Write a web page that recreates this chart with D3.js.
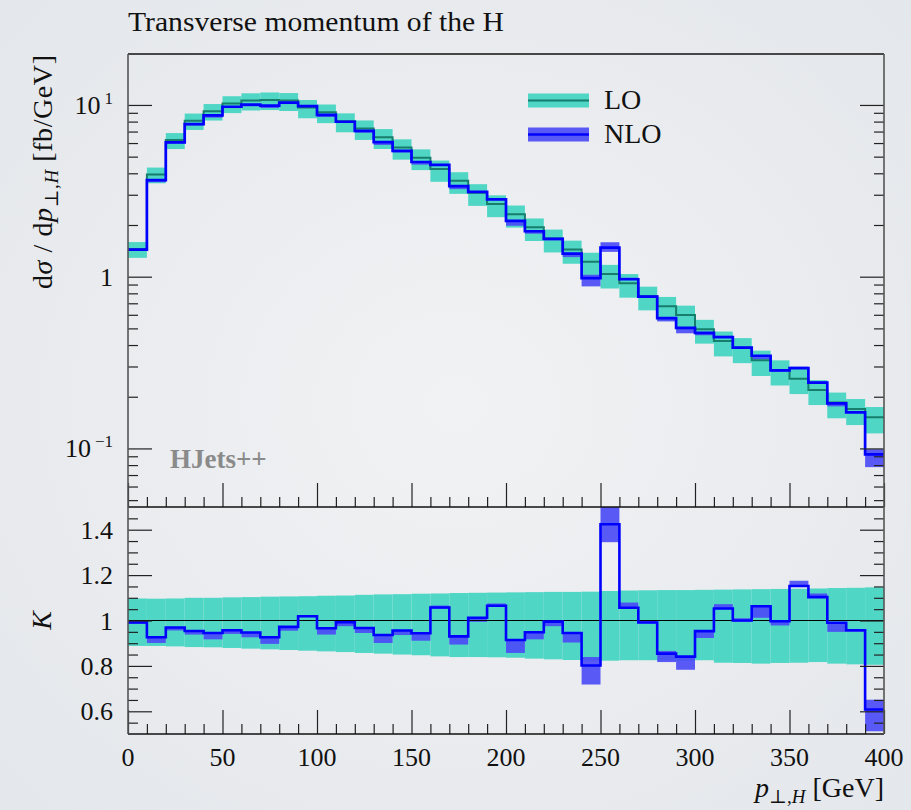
<!DOCTYPE html>
<html><head><meta charset="utf-8">
<script src="https://cdn.jsdelivr.net/npm/d3@7"></script>
<style>
html,body{margin:0;padding:0;background:#eaecf0;}
svg{display:block;}
text{font-family:"Liberation Serif","DejaVu Serif",serif;fill:#111;}
</style></head><body>
<svg id="c" width="911" height="810"></svg>
<script>
// ---- data ----
const binEdges = [0,10,20,30,40,50,60,70,80,90,100,110,120,130,140,150,160,170,180,190,200,
  210,220,230,240,250,260,270,280,290,300,310,320,330,340,350,360,370,380,390,400];
// LO central value per bin [fb/GeV]
const loCentral = [1.45,3.94,6.25,8.1,9.2,10.2,10.6,10.7,10.6,9.65,
  9.07,8.05,7.3,6.49,5.65,4.93,4.24,3.62,3.08,2.65,
  2.31,1.94,1.67,1.44,1.223,1.037,0.915,0.772,0.672,0.598,
  0.494,0.422,0.386,0.326,0.286,0.2547,0.219,0.185,0.1695,0.152];
// LO scale band relative to LO central
const loUpRatio = [1.097,1.096,1.097,1.100,1.100,1.102,1.103,1.105,1.106,1.107,
  1.109,1.110,1.113,1.115,1.116,1.118,1.119,1.121,1.122,1.123,
  1.124,1.125,1.126,1.126,1.127,1.130,1.132,1.133,1.134,1.134,
  1.135,1.136,1.137,1.138,1.139,1.140,1.141,1.143,1.144,1.146];
const loDownRatio = [0.888,0.888,0.886,0.883,0.882,0.879,0.876,0.873,0.870,0.867,
  0.864,0.861,0.857,0.854,0.850,0.847,0.842,0.839,0.839,0.838,
  0.836,0.832,0.829,0.826,0.822,0.823,0.825,0.825,0.825,0.822,
  0.825,0.814,0.813,0.810,0.813,0.814,0.817,0.810,0.807,0.805];
// K factor NLO/LO and NLO band relative to LO central
const kCentral = [0.991,0.926,0.969,0.954,0.945,0.957,0.947,0.926,0.972,1.019,
  0.966,0.992,0.967,0.936,0.956,0.944,1.057,0.930,1.012,1.065,
  0.914,0.948,0.995,0.945,0.802,1.424,1.056,0.991,0.854,0.841,
  0.953,1.053,1.000,1.063,0.997,1.152,1.103,0.990,0.957,0.608];
const kUp = [0.996,0.928,0.971,0.956,0.947,0.959,0.949,0.928,0.974,1.023,
  0.968,0.995,0.969,0.938,0.958,0.946,1.066,0.932,1.014,1.075,
  0.916,0.950,0.998,0.947,0.839,1.530,1.079,0.998,0.866,0.843,
  0.955,1.072,1.010,1.065,0.999,1.175,1.119,0.992,0.962,0.651];
const kDown = [0.986,0.901,0.956,0.938,0.917,0.941,0.926,0.897,0.955,1.015,
  0.938,0.975,0.945,0.901,0.936,0.911,1.052,0.894,0.994,1.060,
  0.857,0.917,0.975,0.903,0.718,1.345,1.052,0.988,0.817,0.783,
  0.923,1.050,0.995,1.012,0.978,1.148,1.100,0.950,0.950,0.512];

const xMajorTicks = [0,50,100,150,200,250,300,350,400];
const xMinorTicks = [10,20,30,40,60,70,80,90,110,120,130,140,160,170,180,190,210,220,230,240,
  260,270,280,290,310,320,330,340,360,370,380,390];
const mainMajorTicks = [0.1,1,10];
const mainMinorTicks = [0.05,0.06,0.07,0.08,0.09,0.2,0.3,0.4,0.5,0.6,0.7,0.8,0.9,2,3,4,5,6,7,8,9];
const ratioMajorTicks = [0.6,0.8,1,1.2,1.4];
const ratioMinorTicks = [0.55,0.65,0.7,0.75,0.85,0.9,0.95,1.05,1.1,1.15,1.25,1.3,1.35,1.45];
const ratioTickLabels = ["0.6","0.8","1","1.2","1.4"];
const mainYDomain = [0.0456, 19.8];
const ratioDomain = [0.5, 1.5];
const xDomain = [0, 400];

// ---- layout ----
const L = 128, R = 884, mainTop = 54, mainBot = 507, ratBot = 734;
const svg = d3.select("#c");

const defs = svg.append("defs");
const rg = defs.append("radialGradient").attr("id","bg").attr("cx","50%").attr("cy","50%").attr("r","70%");
rg.append("stop").attr("offset","0%").attr("stop-color","#f1f2f4");
rg.append("stop").attr("offset","100%").attr("stop-color","#e4e7eb");
svg.append("rect").attr("width",911).attr("height",810).attr("fill","url(#bg)");

defs.append("clipPath").attr("id","clipMain").append("rect")
  .attr("x",L).attr("y",mainTop).attr("width",R-L).attr("height",mainBot-mainTop);
defs.append("clipPath").attr("id","clipRat").append("rect")
  .attr("x",L).attr("y",mainBot).attr("width",R-L).attr("height",ratBot-mainBot);

const x = d3.scaleLinear(xDomain, [L, R]);
const yM = d3.scaleLog(mainYDomain, [mainBot, mainTop]);
const yR = d3.scaleLinear(ratioDomain, [ratBot, mainBot]);

const TEAL = "#4fd6c5", TEALD = "#177d6c", BLUEB = "#4c4cf6", BLUE = "#0000ff";

const bins = loCentral.map((lo,i)=>({
  x0: binEdges[i], x1: binEdges[i+1], lo,
  loUp: lo*loUpRatio[i], loDn: lo*loDownRatio[i],
  nlo: lo*kCentral[i], nloUp: lo*kUp[i], nloDn: lo*kDown[i],
  k: kCentral[i], kU: kUp[i], kD: kDown[i], rU: loUpRatio[i], rD: loDownRatio[i]
}));

function stepPath(vals, y){
  const pts = vals.map((v,i)=>[binEdges[i], v]);
  pts.push([binEdges[binEdges.length-1], vals[vals.length-1]]);
  return d3.line().x(d=>x(d[0])).y(d=>y(d[1])).curve(d3.curveStepAfter)(pts);
}

// ---- main panel ----
const gM = svg.append("g").attr("clip-path","url(#clipMain)");
gM.selectAll("rect.lob").data(bins).join("rect")
  .attr("x",d=>x(d.x0)).attr("width",d=>x(d.x1)-x(d.x0))
  .attr("y",d=>yM(d.loUp)).attr("height",d=>yM(d.loDn)-yM(d.loUp))
  .attr("fill",TEAL);
gM.selectAll("rect.nlob").data(bins).join("rect")
  .attr("x",d=>x(d.x0)).attr("width",d=>x(d.x1)-x(d.x0))
  .attr("y",d=>yM(d.nloUp)).attr("height",d=>yM(d.nloDn)-yM(d.nloUp))
  .attr("fill",BLUEB).attr("opacity",0.92);
gM.append("path").attr("d",stepPath(loCentral,yM)).attr("fill","none")
  .attr("stroke",TEALD).attr("stroke-width",2);
gM.append("path").attr("d",stepPath(bins.map(d=>d.nlo),yM)).attr("fill","none")
  .attr("stroke",BLUE).attr("stroke-width",2.7);

// ---- ratio panel ----
const gR = svg.append("g").attr("clip-path","url(#clipRat)");
gR.selectAll("rect.lob").data(bins).join("rect")
  .attr("x",d=>x(d.x0)).attr("width",d=>x(d.x1)-x(d.x0))
  .attr("y",d=>yR(d.rU)).attr("height",d=>yR(d.rD)-yR(d.rU))
  .attr("fill",TEAL);
gR.selectAll("rect.nlob").data(bins).join("rect")
  .attr("x",d=>x(d.x0)).attr("width",d=>x(d.x1)-x(d.x0))
  .attr("y",d=>yR(d.kU)).attr("height",d=>yR(d.kD)-yR(d.kU))
  .attr("fill",BLUEB).attr("opacity",0.92);
gR.append("line").attr("x1",L).attr("x2",R).attr("y1",yR(1)).attr("y2",yR(1))
  .attr("stroke","#000").attr("stroke-width",1.1);
gR.append("path").attr("d",stepPath(kCentral,yR)).attr("fill","none")
  .attr("stroke",BLUE).attr("stroke-width",2.6);

// ---- ticks via d3 axes ----
function ax(gen, tx, ty){
  const g = svg.append("g").attr("transform",`translate(${tx},${ty})`).call(gen);
  g.select(".domain").remove();
  g.selectAll("line").attr("stroke","#222").attr("stroke-width",1.2);
  g.selectAll("text").remove();
  return g;
}
ax(d3.axisRight(yM).tickValues(mainMajorTicks).tickSize(24).tickFormat(""), L, 0);
ax(d3.axisRight(yM).tickValues(mainMinorTicks).tickSize(10).tickFormat(""), L, 0);
ax(d3.axisLeft(yM).tickValues(mainMajorTicks).tickSize(24).tickFormat(""), R, 0);
ax(d3.axisLeft(yM).tickValues(mainMinorTicks).tickSize(10).tickFormat(""), R, 0);
ax(d3.axisTop(x).tickValues(xMajorTicks).tickSize(24).tickFormat(""), 0, mainBot);
ax(d3.axisTop(x).tickValues(xMinorTicks).tickSize(10).tickFormat(""), 0, mainBot);
ax(d3.axisRight(yR).tickValues(ratioMajorTicks).tickSize(24).tickFormat(""), L, 0);
ax(d3.axisRight(yR).tickValues(ratioMinorTicks).tickSize(10).tickFormat(""), L, 0);
ax(d3.axisLeft(yR).tickValues(ratioMajorTicks).tickSize(24).tickFormat(""), R, 0);
ax(d3.axisLeft(yR).tickValues(ratioMinorTicks).tickSize(10).tickFormat(""), R, 0);
ax(d3.axisTop(x).tickValues(xMajorTicks).tickSize(24).tickFormat(""), 0, ratBot);
ax(d3.axisTop(x).tickValues(xMinorTicks).tickSize(10).tickFormat(""), 0, ratBot);

// ---- frames ----
const fr = svg.append("g").attr("fill","none");
[mainTop, mainBot, ratBot].forEach(yy=>{
  fr.append("line").attr("x1",L).attr("x2",R).attr("y1",yy).attr("y2",yy)
    .attr("stroke","#111").attr("stroke-width",1.4);
});
[L,R].forEach(xx=>{
  fr.append("line").attr("x1",xx).attr("x2",xx).attr("y1",mainTop).attr("y2",ratBot)
    .attr("stroke","#555").attr("stroke-width",1.6);
});

// ---- tick labels ----
const FS = 26;
const expo = {0.1:"−1", 1:null, 10:"1"};
mainMajorTicks.forEach(v=>{
  const t = svg.append("text").attr("x",113).attr("y",yM(v)+9).attr("text-anchor","end")
    .attr("font-size",FS);
  if (expo[v]===null){ t.text("1"); }
  else {
    t.append("tspan").text("10");
    t.append("tspan").attr("font-size",17).attr("dx",4).attr("dy",-10).text(expo[v]);
  }
});
ratioMajorTicks.forEach((v,i)=>{
  svg.append("text").attr("x",113).attr("y",yR(v)+9).attr("text-anchor","end")
    .attr("font-size",FS).text(ratioTickLabels[i]);
});
xMajorTicks.forEach(v=>{
  svg.append("text").attr("x",x(v)).attr("y",766).attr("text-anchor","middle")
    .attr("font-size",FS).text(v);
});

// ---- titles ----
svg.append("text").attr("x",128).attr("y",31).attr("font-size",27)
  .attr("textLength",376).attr("lengthAdjust","spacingAndGlyphs")
  .text("Transverse momentum of the H");

const xl = svg.append("text").attr("x",884).attr("y",797).attr("text-anchor","end").attr("font-size",28);
xl.append("tspan").attr("font-style","italic").text("p");
xl.append("tspan").attr("font-size",19).attr("dy",6).text("⊥,");
xl.append("tspan").attr("font-size",19).attr("font-style","italic").text("H");
xl.append("tspan").attr("dy",-6).text(" [GeV]");

const yl = svg.append("text").attr("transform","translate(52,55) rotate(-90)")
  .attr("text-anchor","end").attr("font-size",28)
  .attr("textLength",234).attr("lengthAdjust","spacing");
yl.append("tspan").text("d");
yl.append("tspan").attr("font-style","italic").text("σ");
yl.append("tspan").text(" / d");
yl.append("tspan").attr("font-style","italic").text("p");
yl.append("tspan").attr("font-size",19).attr("dy",6).text("⊥,");
yl.append("tspan").attr("font-size",19).attr("font-style","italic").text("H");
yl.append("tspan").attr("dy",-6).text(" [fb/GeV]");

svg.append("text").attr("transform",`translate(51,${yR(1)}) rotate(-90)`)
  .attr("text-anchor","middle").attr("font-size",28).attr("font-style","italic").text("K");

svg.append("text").attr("x",170).attr("y",468).attr("font-size",27).attr("font-weight","bold")
  .style("fill","#8a8a8a").text("HJets++");

// ---- legend ----
const legend = [{name:"LO", band:TEAL, line:TEALD, y:100.5},{name:"NLO", band:BLUEB, line:BLUE, y:134.5}];
legend.forEach(d=>{
  svg.append("rect").attr("x",528).attr("y",d.y-7).attr("width",61).attr("height",14)
    .attr("fill",d.band).attr("opacity",d.name==="NLO"?0.92:1);
  svg.append("line").attr("x1",528).attr("x2",589).attr("y1",d.y).attr("y2",d.y)
    .attr("stroke",d.line).attr("stroke-width",d.name==="NLO"?2.7:2.2);
  svg.append("text").attr("x",604).attr("y",d.y+8).attr("font-size",28).text(d.name);
});
</script>
</body></html>
